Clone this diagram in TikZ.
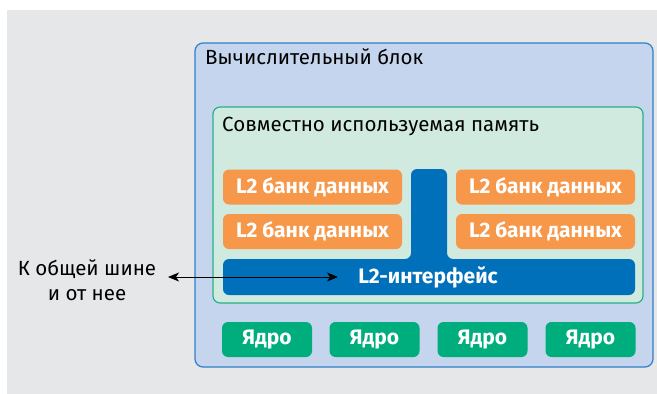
\documentclass[tikz,border=0pt]{standalone}
\usepackage{fontspec}
\setmainfont{Fira Sans}
\usetikzlibrary{arrows.meta}
\definecolor{bgGrey}{HTML}{E6E7E9}
\definecolor{outerFill}{HTML}{C6D5EE}
\definecolor{outerLine}{HTML}{2F7FC8}
\definecolor{memFill}{HTML}{D0EADF}
\definecolor{memLine}{HTML}{27B088}
\definecolor{bankOrange}{HTML}{F7974A}
\definecolor{ifBlue}{HTML}{0070BA}
\definecolor{coreGreen}{HTML}{00AD7C}
\tikzset{
  boldlabel/.style={text=white, font=\bfseries\fontsize{21}{23}\selectfont, inner sep=0pt},
  bankbox/.style={boldlabel, fill=bankOrange, rounded corners=6pt, minimum width=179pt, minimum height=35pt},
  corebox/.style={boldlabel, fill=coreGreen, rounded corners=6pt, minimum width=90pt, minimum height=35pt},
  titletext/.style={anchor=west, font=\fontsize{20.5}{23}\selectfont, inner sep=0pt},
  buslink/.style={{Stealth[length=11pt,width=9pt,inset=3pt]}-{Stealth[length=11pt,width=9pt,inset=3pt]}, line width=1pt},
}
\begin{document}
\begin{tikzpicture}[x=1pt, y=-1pt]
\useasboundingbox (0,0) rectangle (657,394);
\fill[white] (0,0) rectangle (657,394);
\fill[bgGrey] (7,10) rectangle (657,394);
% outer block
\draw[fill=outerFill, draw=outerLine, line width=1.2pt, rounded corners=8pt] (195,43) rectangle (653,367);
\node[titletext] (title) at (205,57) {Вычислительный блок};
% shared memory
\draw[fill=memFill, draw=memLine, line width=1.2pt, rounded corners=7pt] (213,107) rectangle (643,303);
\node[titletext] (memtitle) at (222,126) {Совместно используемая память};
% banks
\node[bankbox] (b1) at (312.5,187) {L2 банк данных};
\node[bankbox] (b2) at (312.5,231.5) {L2 банк данных};
\node[bankbox] (b3) at (545.5,187) {L2 банк данных};
\node[bankbox] (b4) at (545.5,231.5) {L2 банк данных};
% interface T shape
\fill[ifBlue, rounded corners=6pt] (223,259) -- (411,259) -- (411,169) -- (447,169) -- (447,259) -- (635,259) -- (635,295) -- (223,295) -- cycle;
\node[boldlabel] (ifl) at (428,277) {L2-интерфейс};
% cores
\node[corebox] (c1) at (267,339.5) {Ядро};
\node[corebox] (c2) at (374.5,339.5) {Ядро};
\node[corebox] (c3) at (482.5,339.5) {Ядро};
\node[corebox] (c4) at (590.5,339.5) {Ядро};
% external
\node[align=center, font=\fontsize{20.5}{25}\selectfont, inner sep=0pt] (ext) at (87,280) {К общей шине\\и от нее};
\coordinate (extend) at (168,277);
\coordinate (ifend) at (338,277);
\draw[buslink] (extend) -- (ifend);
\end{tikzpicture}
\end{document}
